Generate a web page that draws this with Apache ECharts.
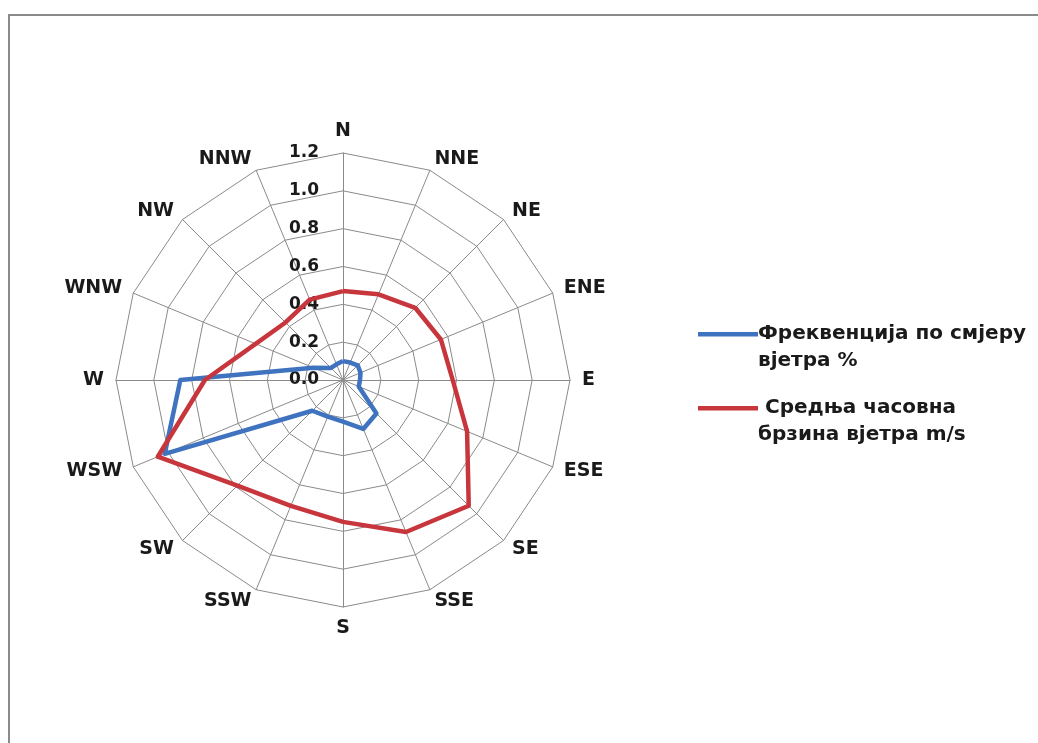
<!DOCTYPE html>
<html>
<head>
<meta charset="utf-8">
<script src="https://cdn.jsdelivr.net/npm/echarts@6/dist/echarts.min.js"></script>
<style>
html,body{margin:0;padding:0;background:#fff;}
#frame{position:absolute;left:8px;top:14px;right:0;bottom:0;border-left:2px solid #8a8a8a;border-top:2px solid #8a8a8a;}
#chart{position:absolute;left:0;top:0;width:1038px;height:743px;}
</style>
</head>
<body>
<div id="frame"></div>
<div id="chart"></div>
<script>
// Wind directions (clockwise from North)
const directions = ['N','NNE','NE','ENE','E','ESE','SE','SSE','S','SSW','SW','WSW','W','WNW','NW','NNW'];
// Frequency by wind direction %
const frequency = [0.10, 0.10, 0.11, 0.10, 0.09, 0.09, 0.25, 0.28, 0.22, 0.21, 0.23, 1.02, 0.86, 0.17, 0.09, 0.09];
// Mean hourly wind speed m/s
const speed = [0.47, 0.49, 0.54, 0.56, 0.58, 0.71, 0.94, 0.87, 0.75, 0.72, 0.79, 1.06, 0.73, 0.50, 0.43, 0.46];
const seriesNames = ['Фреквенција по смјеру\nвјетра %', ' Средња часовна\nбрзина вјетра m/s'];
const tickLabels = ['0.0','0.2','0.4','0.6','0.8','1.0','1.2'];
const axisMax = 1.2;

// ECharts radar lays indicators counter-clockwise; reorder so they appear clockwise
const order = directions.map((d, i) => (directions.length - i) % directions.length);
const indicator = order.map((idx, k) => {
  const o = { name: directions[idx], min: 0, max: axisMax };
  if (k !== 0) o.axisLabel = { show: false };
  return o;
});
const reorder = arr => order.map(i => arr[i]);

const font = 'DejaVu Sans';
const chart = echarts.init(document.getElementById('chart'), null, { renderer: 'canvas' });
chart.setOption({
  animation: false,
  backgroundColor: 'transparent',
  color: ['#3f73c0', '#c8363d'],
  legend: {
    orient: 'vertical',
    left: 693,
    top: 315,
    itemWidth: 60,
    itemHeight: 54,
    itemGap: 20,
    selectedMode: false,
    icon: 'path://M0,0 M0,12 L60,12 L60,16.5 L0,16.5 Z M60,54',
    textStyle: { fontFamily: font, fontWeight: 'bold', fontSize: 20, lineHeight: 27, color: '#1a1a1a', padding: [0, 0, 0, -5] },
    data: seriesNames
  },
  radar: {
    center: [343, 380],
    radius: 227,
    startAngle: 90,
    shape: 'polygon',
    splitNumber: 6,
    indicator: indicator,
    axisName: { color: '#1a1a1a', fontFamily: font, fontWeight: 'bold', fontSize: 19 },
    nameGap: 12,
    axisLine: { lineStyle: { color: '#8a8a8a', width: 1 } },
    splitLine: { lineStyle: { color: '#8a8a8a', width: 1 } },
    splitArea: { show: false },
    axisTick: { show: false },
    axisLabel: {
      show: true,
      color: '#1a1a1a',
      fontFamily: font,
      fontWeight: 'bold',
      fontSize: 17,
      margin: 24,
      formatter: v => tickLabels[Math.round(v / (axisMax / (tickLabels.length - 1)))]
    }
  },
  series: [{
    type: 'radar',
    symbol: 'none',
    data: [
      { name: seriesNames[0], value: reorder(frequency), lineStyle: { width: 4.5, color: '#3f73c0' }, itemStyle: { color: '#3f73c0' } },
      { name: seriesNames[1], value: reorder(speed), lineStyle: { width: 4.5, color: '#c8363d' }, itemStyle: { color: '#c8363d' } }
    ]
  }]
});
</script>
</body>
</html>
